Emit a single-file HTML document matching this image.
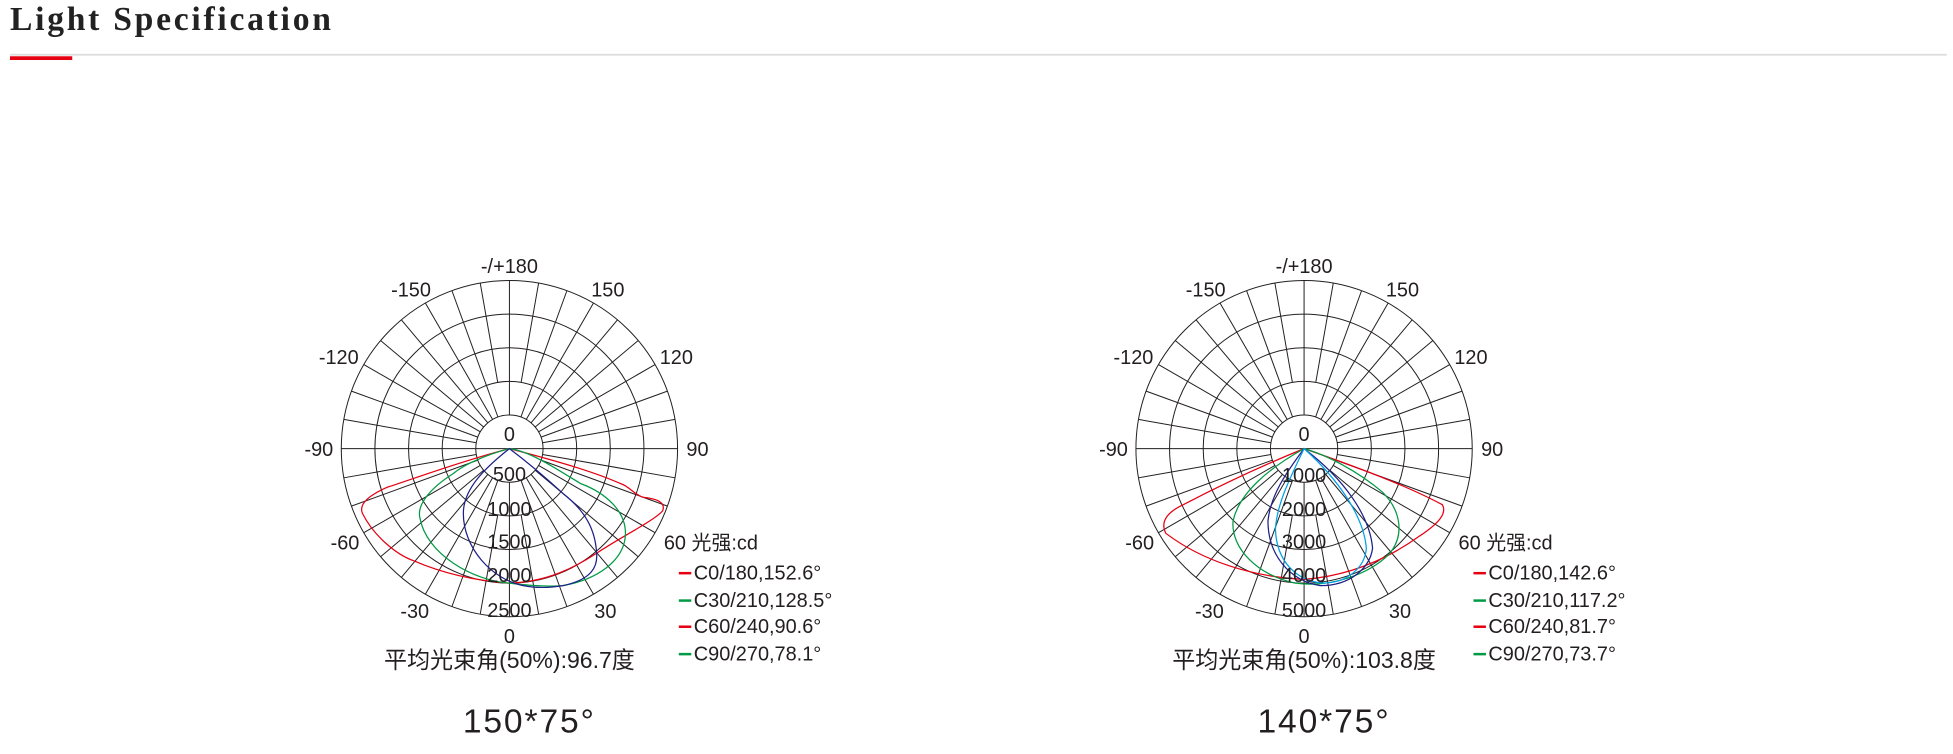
<!DOCTYPE html>
<html><head><meta charset="utf-8"><style>
html,body{margin:0;padding:0;background:#fff;}
svg{display:block;}
</style></head><body>
<svg width="1953" height="754" viewBox="0 0 1568 605" xmlns="http://www.w3.org/2000/svg" font-family="Liberation Sans, 'Noto Sans CJK SC', sans-serif">
<text x="8" y="24" font-family="Liberation Serif, serif" font-weight="bold" font-size="27" letter-spacing="2.2" fill="#222">Light Specification</text>
<rect x="8" y="43" width="1555" height="1.5" fill="#ddd"/>
<rect x="8" y="45" width="50" height="3" fill="#e60012"/>
<g id="c1" transform="translate(409,360)" fill="none" stroke="#231f20" stroke-width="0.8">
  <circle r="27"/><circle r="54"/><circle r="81"/><circle r="108"/><circle r="135"/>
  <g id="rad">
  <line x1="0" y1="54" x2="0" y2="135" transform="rotate(10)"/><line x1="0" y1="27" x2="0" y2="135" transform="rotate(20)"/><line x1="0" y1="27" x2="0" y2="135" transform="rotate(30)"/><line x1="0" y1="27" x2="0" y2="135" transform="rotate(40)"/><line x1="0" y1="27" x2="0" y2="135" transform="rotate(50)"/><line x1="0" y1="27" x2="0" y2="135" transform="rotate(60)"/><line x1="0" y1="27" x2="0" y2="135" transform="rotate(70)"/><line x1="0" y1="27" x2="0" y2="135" transform="rotate(80)"/><line x1="0" y1="27" x2="0" y2="135" transform="rotate(100)"/><line x1="0" y1="27" x2="0" y2="135" transform="rotate(110)"/><line x1="0" y1="27" x2="0" y2="135" transform="rotate(120)"/><line x1="0" y1="27" x2="0" y2="135" transform="rotate(130)"/><line x1="0" y1="27" x2="0" y2="135" transform="rotate(140)"/><line x1="0" y1="27" x2="0" y2="135" transform="rotate(150)"/><line x1="0" y1="27" x2="0" y2="135" transform="rotate(160)"/><line x1="0" y1="54" x2="0" y2="135" transform="rotate(170)"/>
  <line x1="0" y1="54" x2="0" y2="135" transform="rotate(-10)"/><line x1="0" y1="27" x2="0" y2="135" transform="rotate(-20)"/><line x1="0" y1="27" x2="0" y2="135" transform="rotate(-30)"/><line x1="0" y1="27" x2="0" y2="135" transform="rotate(-40)"/><line x1="0" y1="27" x2="0" y2="135" transform="rotate(-50)"/><line x1="0" y1="27" x2="0" y2="135" transform="rotate(-60)"/><line x1="0" y1="27" x2="0" y2="135" transform="rotate(-70)"/><line x1="0" y1="27" x2="0" y2="135" transform="rotate(-80)"/><line x1="0" y1="27" x2="0" y2="135" transform="rotate(-100)"/><line x1="0" y1="27" x2="0" y2="135" transform="rotate(-110)"/><line x1="0" y1="27" x2="0" y2="135" transform="rotate(-120)"/><line x1="0" y1="27" x2="0" y2="135" transform="rotate(-130)"/><line x1="0" y1="27" x2="0" y2="135" transform="rotate(-140)"/><line x1="0" y1="27" x2="0" y2="135" transform="rotate(-150)"/><line x1="0" y1="27" x2="0" y2="135" transform="rotate(-160)"/><line x1="0" y1="54" x2="0" y2="135" transform="rotate(-170)"/>
  </g>
  <line x1="-135" y1="0" x2="135" y2="0"/><line x1="0" y1="-135" x2="0" y2="-27"/><line x1="0" y1="27" x2="0" y2="135"/>
</g>
<g transform="translate(638,0)" fill="none" stroke="#231f20" stroke-width="0.8">
 <g transform="translate(409,360)">
  <circle r="27"/><circle r="54"/><circle r="81"/><circle r="108"/><circle r="135"/>
  <use href="#rad"/>
  <line x1="-135" y1="0" x2="135" y2="0"/><line x1="0" y1="-135" x2="0" y2="-27"/><line x1="0" y1="27" x2="0" y2="135"/>
 </g>
</g>
<g fill="none" stroke-width="1">
 <path stroke="#e60012" d="M409,360 C370,370 330,385 311,391 C295,398 288,405 291,412 C300,430 318,445 332,450 C355,460 380,466 409,468 C440,467 462,455 479,444 C500,430 525,418 532,410 C535,402 525,400 516,399 C508,396 505,390 498,388 C480,380 455,372 409,360 Z"/>
 <path stroke="#009a44" d="M409,360 C390,365 372,373 364,380 C345,392 335,405 337,415 C342,445 380,466 409,468 C425,470 440,471 452,470 C480,465 500,450 502,431 C504,410 485,395 466,388 C445,375 425,362 409,360 Z"/>
 <path stroke="#1d2088" d="M409,360 C390,375 372,392 372,412 C372,440 395,465 420,470 C430,472 440,472 452,470 C475,465 480,455 479,444 C478,425 470,410 452,396 C440,385 425,372 409,360 Z"/>
</g>
<g fill="none" stroke-width="1">
 <path stroke="#e60012" d="M1047,360 C1010,375 975,392 950,405 C935,412 932,420 936,428 C965,450 1005,463 1047,465 C1085,462 1115,448 1140,430 C1155,420 1162,412 1158,405 C1130,390 1090,375 1047,360 Z"/>
 <path stroke="#009a44" d="M1047,360 C1020,375 995,395 990,418 C988,440 1010,462 1040,468 C1070,472 1100,460 1115,445 C1128,430 1125,410 1110,395 C1090,378 1065,365 1047,360 Z"/>
 <path stroke="#1d2088" d="M1047,360 C1032,380 1020,398 1018,418 C1018,445 1035,466 1060,470 C1085,470 1100,455 1102,440 C1100,415 1080,385 1047,360 Z"/>
 <path stroke="#00a0e9" d="M1047,360 C1035,385 1025,405 1024,425 C1025,450 1040,466 1062,468 C1082,468 1096,455 1097,440 C1095,415 1075,385 1047,360 Z"/>
</g>
<g font-size="16" fill="#231f20" text-anchor="middle">
 <text x="409" y="219">-/+180</text><text x="330" y="238">-150</text><text x="488" y="238">150</text>
 <text x="272" y="292">-120</text><text x="543" y="292">120</text><text x="256" y="366">-90</text><text x="560" y="366">90</text>
 <text x="277" y="441">-60</text><text x="333" y="496">-30</text><text x="486" y="496">30</text><text x="409" y="516">0</text>
 <text x="409" y="354">0</text><text x="409" y="386">500</text><text x="409" y="414">1000</text><text x="409" y="440">1500</text><text x="409" y="467">2000</text><text x="409" y="495">2500</text>
 <text x="409" y="536" font-size="18.5">平均光束角(50%):96.7度</text>
 <text x="425" y="588" font-size="27" letter-spacing="1.5">150*75°</text>
</g>
<g font-size="16" fill="#231f20">
 <text x="533" y="441">60 光强:cd</text>
 <rect x="545" y="459" width="10" height="2" fill="#e60012"/><text x="557" y="465">C0/180,152.6°</text>
 <rect x="545" y="481" width="10" height="2" fill="#009a44"/><text x="557" y="487">C30/210,128.5°</text>
 <rect x="545" y="502" width="10" height="2" fill="#e60012"/><text x="557" y="508">C60/240,90.6°</text>
 <rect x="545" y="524" width="10" height="2" fill="#009a44"/><text x="557" y="530">C90/270,78.1°</text>
</g>
<g font-size="16" fill="#231f20" text-anchor="middle">
 <text x="1047" y="219">-/+180</text><text x="968" y="238">-150</text><text x="1126" y="238">150</text>
 <text x="910" y="292">-120</text><text x="1181" y="292">120</text><text x="894" y="366">-90</text><text x="1198" y="366">90</text>
 <text x="915" y="441">-60</text><text x="971" y="496">-30</text><text x="1124" y="496">30</text><text x="1047" y="516">0</text>
 <text x="1047" y="354">0</text><text x="1047" y="387">1000</text><text x="1047" y="414">2000</text><text x="1047" y="440">3000</text><text x="1047" y="467">4000</text><text x="1047" y="495">5000</text>
 <text x="1047" y="536" font-size="18.5">平均光束角(50%):103.8度</text>
 <text x="1063" y="588" font-size="27" letter-spacing="1.5">140*75°</text>
</g>
<g font-size="16" fill="#231f20">
 <text x="1171" y="441">60 光强:cd</text>
 <rect x="1183" y="459" width="10" height="2" fill="#e60012"/><text x="1195" y="465">C0/180,142.6°</text>
 <rect x="1183" y="481" width="10" height="2" fill="#009a44"/><text x="1195" y="487">C30/210,117.2°</text>
 <rect x="1183" y="502" width="10" height="2" fill="#e60012"/><text x="1195" y="508">C60/240,81.7°</text>
 <rect x="1183" y="524" width="10" height="2" fill="#009a44"/><text x="1195" y="530">C90/270,73.7°</text>
</g>
</svg>
</body></html>
